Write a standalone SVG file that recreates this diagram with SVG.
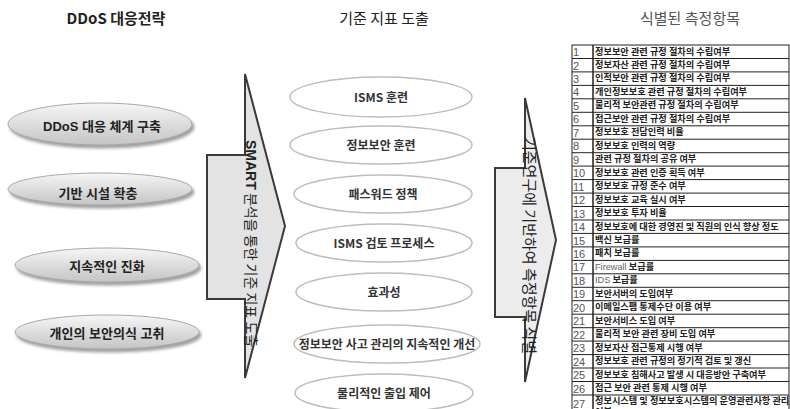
<svg xmlns="http://www.w3.org/2000/svg" width="790" height="409" viewBox="0 0 790 409">
<defs>
<linearGradient id="gl" x1="0" y1="0" x2="0" y2="1">
<stop offset="0" stop-color="#f6f6f6"/>
<stop offset="1" stop-color="#c4c4c4"/>
</linearGradient>
<filter id="sh" x="-10%" y="-30%" width="125%" height="170%">
<feDropShadow dx="2" dy="3" stdDeviation="1.5" flood-color="#777" flood-opacity="0.7"/>
</filter>
<style>
.title{font-family:"Noto Sans CJK KR","Liberation Sans",sans-serif;font-size:15px;text-anchor:middle;fill:#222}
.le{fill:url(#gl);stroke:#a8a8a8;stroke-width:1;filter:url(#sh)}
.lt{font-family:"Liberation Sans","Noto Sans CJK KR",sans-serif;font-size:13px;font-weight:bold;text-anchor:middle;fill:#222}
.me{fill:#fff;stroke:#bdbdbd;stroke-width:1.5}
.mt{font-family:"Noto Sans CJK KR","Liberation Sans",sans-serif;font-size:12px;font-weight:bold;text-anchor:middle;fill:#333}
.ar{fill:#e3e3e3;stroke:#3a3a3a;stroke-width:2;stroke-linejoin:miter}
.vt{font-family:"Noto Sans CJK KR","Liberation Sans",sans-serif;font-size:14px;fill:#222}
.tb{fill:#fff;stroke:#222;stroke-width:1}
.num{font-family:"Liberation Sans",sans-serif;font-size:11px;fill:#555}
.it{font-family:"Noto Sans CJK KR","Liberation Sans",sans-serif;font-size:9.2px;font-weight:bold;fill:#222}
.en{font-family:"Liberation Sans",sans-serif;font-weight:normal;fill:#666}
</style>
</defs>
<rect width="790" height="409" fill="#fff"/>

<g id="titles">
<text class="title" x="116" y="24" font-weight="bold" font-family="Liberation Sans, Noto Sans CJK KR, sans-serif">DDoS 대응전략</text>
<text class="title" x="384" y="24">기준 지표 도출</text>
<text class="title" x="690" y="24" style="fill:#555">식별된 측정항목</text>
</g>

<g id="strategy1"><ellipse class="le" cx="100" cy="124" rx="92" ry="21"/><text class="lt" x="102" y="131">DDoS 대응 체계 구축</text></g>
<g id="strategy2"><ellipse class="le" cx="100" cy="189" rx="92" ry="16"/><text class="lt" x="98" y="198">기반 시설 확충</text></g>
<g id="strategy3"><ellipse class="le" cx="107" cy="265" rx="92" ry="17"/><text class="lt" x="107" y="271">지속적인 진화</text></g>
<g id="strategy4"><ellipse class="le" cx="107" cy="332" rx="92" ry="17"/><text class="lt" x="107" y="338">개인의 보안의식 고취</text></g>

<g id="connectors">
<g id="arrow1">
<path class="ar" d="M245,74 L285,226 L245,378 L245,299 L207,299 L207,155 L245,155 Z"/>
<text class="vt" transform="translate(246,140) rotate(90)"><tspan font-weight="bold" font-family="Liberation Sans, sans-serif">SMART</tspan> 분석을 통한 기준 지표 도출</text>
</g>
<g id="arrow2">
<path class="ar" d="M525,98 L556,240 L525,382 L525,317 L495,317 L495,168 L525,168 Z" style="fill:#ececec"/>
<text class="vt" style="font-size:15px" transform="translate(524,137) rotate(90)">기준연구에 기반하여 측정항목 식별</text>
</g>
</g>

<g id="m1"><ellipse class="me" cx="381" cy="97" rx="91" ry="20"/><text class="mt" x="381" y="102">ISMS 훈련</text></g>
<g id="m2"><ellipse class="me" cx="381" cy="145" rx="91" ry="19"/><text class="mt" x="381" y="150">정보보안 훈련</text></g>
<g id="m3"><ellipse class="me" cx="383" cy="194" rx="89" ry="19"/><text class="mt" x="383" y="199">패스워드 정책</text></g>
<g id="m4"><ellipse class="me" cx="384" cy="243" rx="88" ry="19"/><text class="mt" x="384" y="248">ISMS 검토 프로세스</text></g>
<g id="m5"><ellipse class="me" cx="384" cy="292" rx="88" ry="19"/><text class="mt" x="384" y="297">효과성</text></g>
<g id="m6"><ellipse class="me" cx="387" cy="344" rx="93" ry="19"/><text class="mt" x="387" y="349">정보보안 사고 관리의 지속적인 개선</text></g>
<g id="m7"><ellipse class="me" cx="384" cy="393" rx="89" ry="19"/><text class="mt" x="384" y="398">물리적인 출입 제어</text></g>

<g id="table">
<rect class="tb" x="572" y="45" width="217" height="370"/>
<g stroke="#222" stroke-width="1">
<line x1="593" y1="45" x2="593" y2="409" stroke-width="1.5"/>
<line x1="572" y1="58.5" x2="789" y2="58.5"/>
<line x1="572" y1="71.9" x2="789" y2="71.9"/>
<line x1="572" y1="85.4" x2="789" y2="85.4"/>
<line x1="572" y1="98.8" x2="789" y2="98.8"/>
<line x1="572" y1="112.3" x2="789" y2="112.3"/>
<line x1="572" y1="125.8" x2="789" y2="125.8"/>
<line x1="572" y1="139.2" x2="789" y2="139.2"/>
<line x1="572" y1="152.7" x2="789" y2="152.7"/>
<line x1="572" y1="166.1" x2="789" y2="166.1"/>
<line x1="572" y1="179.6" x2="789" y2="179.6"/>
<line x1="572" y1="193.1" x2="789" y2="193.1"/>
<line x1="572" y1="206.5" x2="789" y2="206.5"/>
<line x1="572" y1="220" x2="789" y2="220"/>
<line x1="572" y1="233.4" x2="789" y2="233.4"/>
<line x1="572" y1="246.9" x2="789" y2="246.9"/>
<line x1="572" y1="260.4" x2="789" y2="260.4"/>
<line x1="572" y1="273.8" x2="789" y2="273.8"/>
<line x1="572" y1="287.3" x2="789" y2="287.3"/>
<line x1="572" y1="300.7" x2="789" y2="300.7"/>
<line x1="572" y1="314.2" x2="789" y2="314.2"/>
<line x1="572" y1="327.7" x2="789" y2="327.7"/>
<line x1="572" y1="341.1" x2="789" y2="341.1"/>
<line x1="572" y1="354.6" x2="789" y2="354.6"/>
<line x1="572" y1="368" x2="789" y2="368"/>
<line x1="572" y1="381.5" x2="789" y2="381.5"/>
<line x1="572" y1="395" x2="789" y2="395"/>
</g>
<g class="num">
<text x="573" y="56">1</text><text x="573" y="69.5">2</text><text x="573" y="83">3</text><text x="573" y="96.4">4</text><text x="573" y="109.9">5</text><text x="573" y="123.3">6</text><text x="573" y="136.8">7</text><text x="573" y="150.3">8</text><text x="573" y="163.7">9</text><text x="573" y="177.2">10</text><text x="573" y="190.6">11</text><text x="573" y="204.1">12</text><text x="573" y="217.6">13</text><text x="573" y="231">14</text><text x="573" y="244.5">15</text><text x="573" y="257.9">16</text><text x="573" y="271.4">17</text><text x="573" y="284.9">18</text><text x="573" y="298.3">19</text><text x="573" y="311.8">20</text><text x="573" y="325.2">21</text><text x="573" y="338.7">22</text><text x="573" y="352.2">23</text><text x="573" y="365.6">24</text><text x="573" y="379.1">25</text><text x="573" y="392.5">26</text><text x="573" y="408">27</text>
</g>
<g class="it">
<text x="595" y="54.5">정보보안 관련 규정 절차의 수립여부</text>
<text x="595" y="68">정보자산 관련 규정 절차의 수립여부</text>
<text x="595" y="81.4">인적보안 관련 규정 절차의 수립여부</text>
<text x="595" y="94.9">개인정보보호 관련 규정 절차의 수립여부</text>
<text x="595" y="108.3">물리적 보안관련 규정 절차의 수립여부</text>
<text x="595" y="121.8">접근보안 관련 규정 절차의 수립여부</text>
<text x="595" y="135.3">정보보호 전담인력 비율</text>
<text x="595" y="148.7">정보보호 인력의 역량</text>
<text x="595" y="162.2">관련 규정 절차의 공유 여부</text>
<text x="595" y="175.6">정보보호 관련 인증 획득 여부</text>
<text x="595" y="189.1">정보보호 규정 준수 여부</text>
<text x="595" y="202.6">정보보호 교육 실시 여부</text>
<text x="595" y="216">정보보호 투자 비율</text>
<text x="595" y="229.5">정보보호에 대한 경영진 및 직원의 인식 향상 정도</text>
<text x="595" y="242.9">백신 보급률</text>
<text x="595" y="256.4">패치 보급률</text>
<text x="595" y="269.9"><tspan class="en">Firewall</tspan> 보급률</text>
<text x="595" y="283.3"><tspan class="en">IDS</tspan> 보급률</text>
<text x="595" y="296.8">보안서버의 도입여부</text>
<text x="595" y="310.2">이메일스팸 통제수단 이용 여부</text>
<text x="595" y="323.7">보안서비스 도입 여부</text>
<text x="595" y="337.2">물리적 보안 관련 장비 도입 여부</text>
<text x="595" y="350.6">정보자산 접근통제 시행 여부</text>
<text x="595" y="364.1">정보보호 관련 규정의 정기적 검토 및 갱신</text>
<text x="595" y="377.5">정보보호 침해사고 발생 시 대응방안 구축여부</text>
<text x="595" y="390.5">접근 보안 관련 통제 시행 여부</text>
<text x="595" y="403.5"><tspan x="595" y="403.5">정보시스템 및 정보보호시스템의 운영관련사항 관리</tspan><tspan x="595" y="415">여부</tspan></text>
</g>
</g>
</svg>
